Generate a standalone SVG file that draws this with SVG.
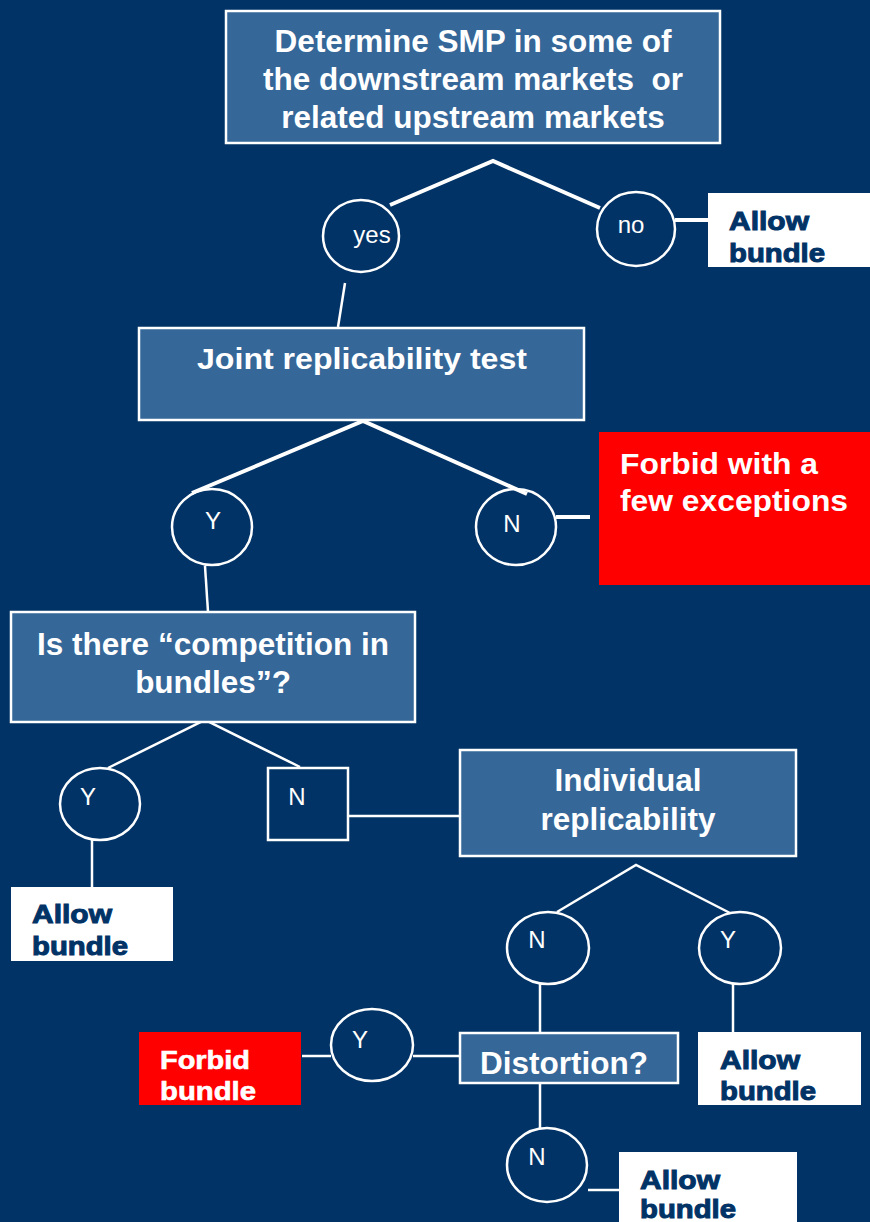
<svg xmlns="http://www.w3.org/2000/svg" width="870" height="1222" viewBox="0 0 870 1222">
<style>
.bg{fill:#023366}
.box{fill:#356799;stroke:#fff;stroke-width:2.5}
.red{fill:#ff0000}
.wht{fill:#fff}
.circ{fill:none;stroke:#fff;stroke-width:2.5}
.sq{fill:none;stroke:#fff;stroke-width:2.5}
.t{font-family:"Liberation Sans",Arial,sans-serif;font-weight:bold;font-size:31.5px;fill:#fff}
.tj{font-family:"Liberation Sans",Arial,sans-serif;font-weight:bold;font-size:30px;fill:#fff}
.tc{font-family:"Liberation Sans",Arial,sans-serif;font-size:24px;fill:#fff}
.ta{font-family:"Liberation Sans",Arial,sans-serif;font-weight:bold;font-size:26px;fill:#023366;stroke:#023366;stroke-width:1}
.tf{font-family:"Liberation Sans",Arial,sans-serif;font-weight:bold;font-size:26px;fill:#fff;stroke:#fff;stroke-width:0.6}
.thick{stroke:#fff;stroke-width:4;fill:none}
.thin{stroke:#fff;stroke-width:2.5;fill:none}
</style>
<rect class="bg" x="0" y="0" width="870" height="1222"/>
<g id="connectors">
<polyline class="thick" points="390,205 493,161 600,208"/>
<line class="thin" x1="345" y1="283" x2="338" y2="327"/>
<line class="thick" x1="675" y1="220" x2="708" y2="220"/>
<polyline class="thick" points="192,493 363,421 527,494"/>
<line class="thick" x1="556" y1="517" x2="590" y2="517"/>
<line class="thin" x1="205" y1="566" x2="208" y2="612"/>
<polyline class="thin" points="108,768 205,720 300,767"/>
<line class="thin" x1="92" y1="840" x2="92" y2="887"/>
<line class="thin" x1="348" y1="816" x2="460" y2="816"/>
<polyline class="thin" points="557,912 636,865 730,913"/>
<line class="thin" x1="540" y1="984" x2="540" y2="1033"/>
<line class="thin" x1="733" y1="984" x2="733" y2="1032"/>
<line class="thin" x1="302" y1="1056" x2="331" y2="1056"/>
<line class="thin" x1="413" y1="1056" x2="460" y2="1056"/>
<line class="thin" x1="540" y1="1083" x2="540" y2="1128"/>
<line class="thin" x1="588" y1="1190" x2="619" y2="1190"/>
</g>
<g id="smp">
<rect class="box" x="226" y="11" width="494" height="132"/>
<text class="t" x="473" y="52" text-anchor="middle">Determine SMP in some of</text>
<text class="t" x="473" y="90" text-anchor="middle" xml:space="preserve">the downstream markets  or</text>
<text class="t" x="473" y="128" text-anchor="middle">related upstream markets</text>
</g>
<g id="yes1">
<ellipse class="circ" cx="361" cy="236" rx="38" ry="36"/>
<text class="tc" x="372" y="243" text-anchor="middle">yes</text>
</g>
<g id="no1">
<ellipse class="circ" cx="636" cy="229" rx="39" ry="37"/>
<text class="tc" x="631" y="233" text-anchor="middle">no</text>
</g>
<g id="allow1">
<rect class="wht" x="708" y="193" width="162" height="74"/>
<text class="ta" x="729" y="230" textLength="80" lengthAdjust="spacingAndGlyphs">Allow</text>
<text class="ta" x="729" y="262" textLength="96" lengthAdjust="spacingAndGlyphs">bundle</text>
</g>
<g id="joint">
<rect class="box" x="139" y="328" width="445" height="92"/>
<text class="tj" x="362" y="369" text-anchor="middle" textLength="330" lengthAdjust="spacingAndGlyphs">Joint replicability test</text>
</g>
<g id="y2">
<ellipse class="circ" cx="212" cy="527" rx="40" ry="38"/>
<text class="tc" x="213" y="529" text-anchor="middle">Y</text>
</g>
<g id="n2">
<ellipse class="circ" cx="516" cy="527" rx="40" ry="38"/>
<text class="tc" x="512" y="532" text-anchor="middle">N</text>
</g>
<g id="forbid1">
<rect class="red" x="599" y="432" width="271" height="153"/>
<text class="tj" x="620" y="474" textLength="198" lengthAdjust="spacingAndGlyphs">Forbid with a</text>
<text class="tj" x="620" y="511" textLength="228" lengthAdjust="spacingAndGlyphs">few exceptions</text>
</g>
<g id="competition">
<rect class="box" x="11" y="612" width="404" height="110"/>
<text class="t" x="213" y="655" text-anchor="middle">Is there “competition in</text>
<text class="t" x="213" y="693" text-anchor="middle">bundles”?</text>
</g>
<g id="y3">
<ellipse class="circ" cx="100" cy="804" rx="40" ry="36"/>
<text class="tc" x="88" y="805" text-anchor="middle">Y</text>
</g>
<g id="n3">
<rect class="sq" x="268" y="768" width="80" height="72"/>
<text class="tc" x="297" y="805" text-anchor="middle">N</text>
</g>
<g id="allow2">
<rect class="wht" x="11" y="887" width="162" height="74"/>
<text class="ta" x="32" y="923" textLength="80" lengthAdjust="spacingAndGlyphs">Allow</text>
<text class="ta" x="32" y="955" textLength="96" lengthAdjust="spacingAndGlyphs">bundle</text>
</g>
<g id="individual">
<rect class="box" x="460" y="750" width="336" height="106"/>
<text class="t" x="628" y="791" text-anchor="middle">Individual</text>
<text class="t" x="628" y="830" text-anchor="middle">replicability</text>
</g>
<g id="n4">
<ellipse class="circ" cx="548" cy="948" rx="41" ry="36"/>
<text class="tc" x="537" y="948" text-anchor="middle">N</text>
</g>
<g id="y4">
<ellipse class="circ" cx="740" cy="948" rx="41" ry="36"/>
<text class="tc" x="728" y="948" text-anchor="middle">Y</text>
</g>
<g id="distortion">
<rect class="box" x="460" y="1033" width="218" height="50"/>
<text class="t" x="564" y="1074" text-anchor="middle">Distortion?</text>
</g>
<g id="allow3">
<rect class="wht" x="698" y="1032" width="163" height="73"/>
<text class="ta" x="720" y="1069" textLength="80" lengthAdjust="spacingAndGlyphs">Allow</text>
<text class="ta" x="720" y="1100" textLength="96" lengthAdjust="spacingAndGlyphs">bundle</text>
</g>
<g id="y5">
<ellipse class="circ" cx="372" cy="1045" rx="41" ry="36"/>
<text class="tc" x="360" y="1048" text-anchor="middle">Y</text>
</g>
<g id="forbid2">
<rect class="red" x="139" y="1032" width="162" height="73"/>
<text class="tf" x="160" y="1069" textLength="90" lengthAdjust="spacingAndGlyphs">Forbid</text>
<text class="tf" x="160" y="1100" textLength="96" lengthAdjust="spacingAndGlyphs">bundle</text>
</g>
<g id="n5">
<ellipse class="circ" cx="547" cy="1165" rx="40" ry="37"/>
<text class="tc" x="537" y="1165" text-anchor="middle">N</text>
</g>
<g id="allow4">
<rect class="wht" x="619" y="1152" width="178" height="75"/>
<text class="ta" x="640" y="1189" textLength="80" lengthAdjust="spacingAndGlyphs">Allow</text>
<text class="ta" x="640" y="1218" textLength="96" lengthAdjust="spacingAndGlyphs">bundle</text>
</g>
</svg>
